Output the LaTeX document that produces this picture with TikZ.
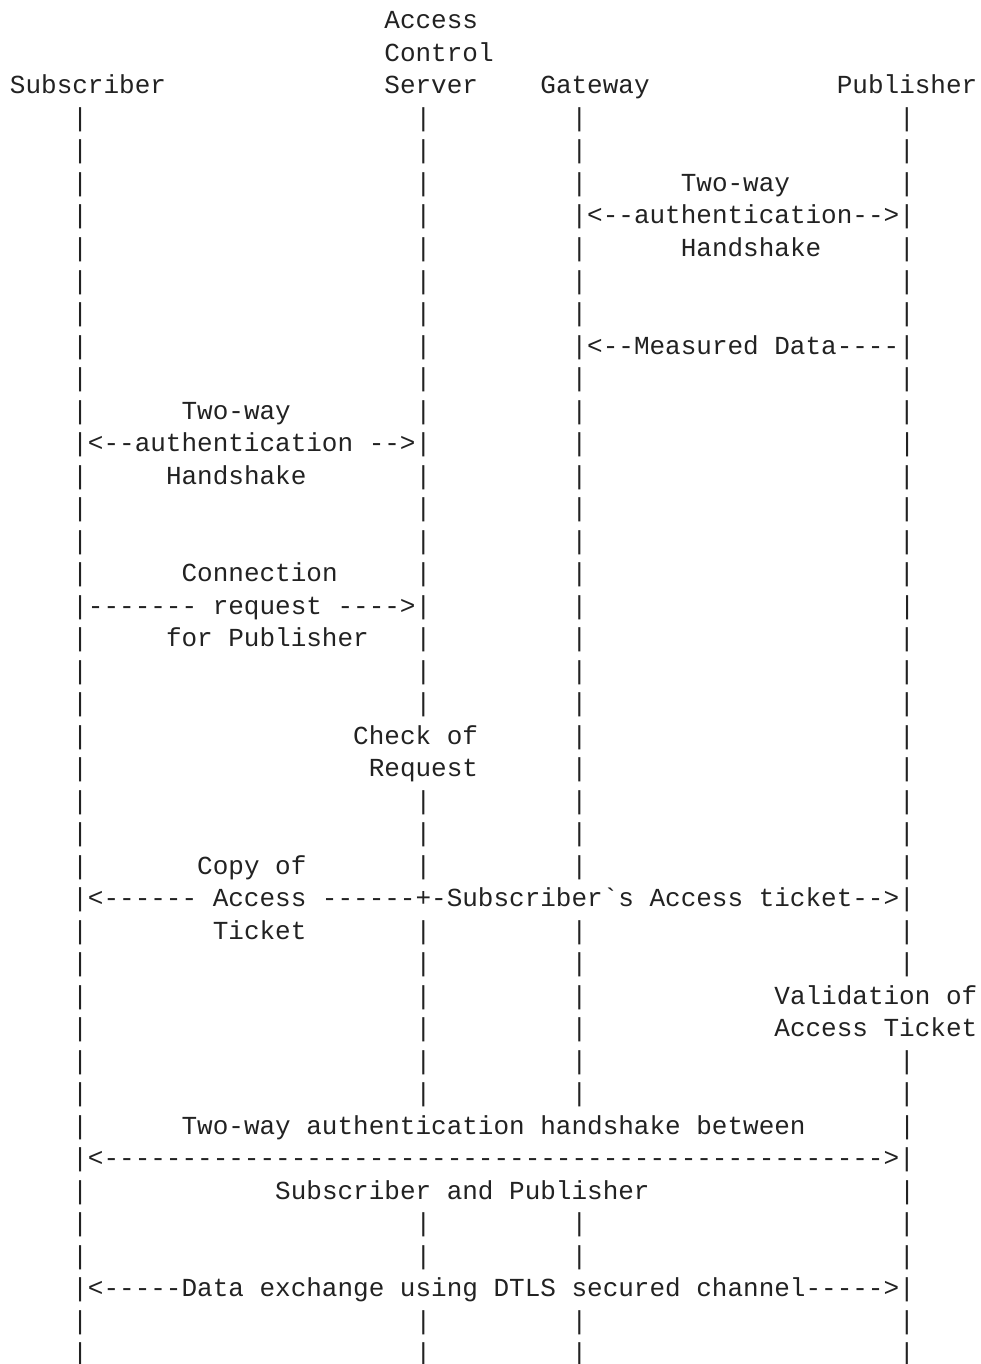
\documentclass[tikz,border=0pt]{standalone}
\usepackage{fontspec}
\setmonofont{Liberation Mono}
\definecolor{ink}{RGB}{34,34,34}
\newlength\cw
\setlength\cw{7.8pt}
\newcommand\gap[1]{\hspace*{#1\cw}}
\newcommand\barsline{\gap{4}|\gap{21}|\gap{9}|\gap{20}|}
\newcommand\tendash{----------}
\newcommand\asl[2]{\node[txt] (l#1) at (5pt,{-14.5pt-#1*16.25pt}) {#2};}
\tikzset{txt/.style={anchor=base west, inner sep=0pt, outer sep=0pt,
  font=\ttfamily\fontsize{13pt}{16.25pt}\selectfont\frenchspacing, text=ink}}
\begin{document}
\begin{tikzpicture}
\useasboundingbox[fill=white] (0,0) rectangle (490pt,-682pt);
\asl{0}{\gap{24}Access}
\asl{1}{\gap{24}Control}
\asl{2}{Subscriber\gap{14}Server\gap{4}Gateway\gap{12}Publisher}
\asl{3}{\barsline}
\asl{4}{\barsline}
\asl{5}{\gap{4}|\gap{21}|\gap{9}|\gap{6}Two-way\gap{7}|}
\asl{6}{\gap{4}|\gap{21}|\gap{9}|<--authentication-->|}
\asl{7}{\gap{4}|\gap{21}|\gap{9}|\gap{6}Handshake\gap{5}|}
\asl{8}{\barsline}
\asl{9}{\barsline}
\asl{10}{\gap{4}|\gap{21}|\gap{9}|<--Measured\gap{1}Data----|}
\asl{11}{\barsline}
\asl{12}{\gap{4}|\gap{6}Two-way\gap{8}|\gap{9}|\gap{20}|}
\asl{13}{\gap{4}|<--authentication\gap{1}-->|\gap{9}|\gap{20}|}
\asl{14}{\gap{4}|\gap{5}Handshake\gap{7}|\gap{9}|\gap{20}|}
\asl{15}{\barsline}
\asl{16}{\barsline}
\asl{17}{\gap{4}|\gap{6}Connection\gap{5}|\gap{9}|\gap{20}|}
\asl{18}{\gap{4}|-------\gap{1}request\gap{1}---->|\gap{9}|\gap{20}|}
\asl{19}{\gap{4}|\gap{5}for\gap{1}Publisher\gap{3}|\gap{9}|\gap{20}|}
\asl{20}{\barsline}
\asl{21}{\barsline}
\asl{22}{\gap{4}|\gap{17}Check\gap{1}of\gap{6}|\gap{20}|}
\asl{23}{\gap{4}|\gap{18}Request\gap{6}|\gap{20}|}
\asl{24}{\barsline}
\asl{25}{\barsline}
\asl{26}{\gap{4}|\gap{7}Copy\gap{1}of\gap{7}|\gap{9}|\gap{20}|}
\asl{27}{\gap{4}|<------\gap{1}Access\gap{1}------+-Subscriber`s\gap{1}Access\gap{1}ticket-->|}
\asl{28}{\gap{4}|\gap{8}Ticket\gap{7}|\gap{9}|\gap{20}|}
\asl{29}{\barsline}
\asl{30}{\gap{4}|\gap{21}|\gap{9}|\gap{12}Validation\gap{1}of}
\asl{31}{\gap{4}|\gap{21}|\gap{9}|\gap{12}Access\gap{1}Ticket}
\asl{32}{\barsline}
\asl{33}{\barsline}
\asl{34}{\gap{4}|\gap{6}Two-way\gap{1}authentication\gap{1}handshake\gap{1}between\gap{6}|}
\asl{35}{\gap{4}|<\tendash\tendash\tendash\tendash\tendash>|}
\asl{36}{\gap{4}|\gap{12}Subscriber\gap{1}and\gap{1}Publisher\gap{16}|}
\asl{37}{\barsline}
\asl{38}{\barsline}
\asl{39}{\gap{4}|<-----Data\gap{1}exchange\gap{1}using\gap{1}DTLS\gap{1}secured\gap{1}channel----->|}
\asl{40}{\barsline}
\asl{41}{\barsline}
\end{tikzpicture}
\end{document}
